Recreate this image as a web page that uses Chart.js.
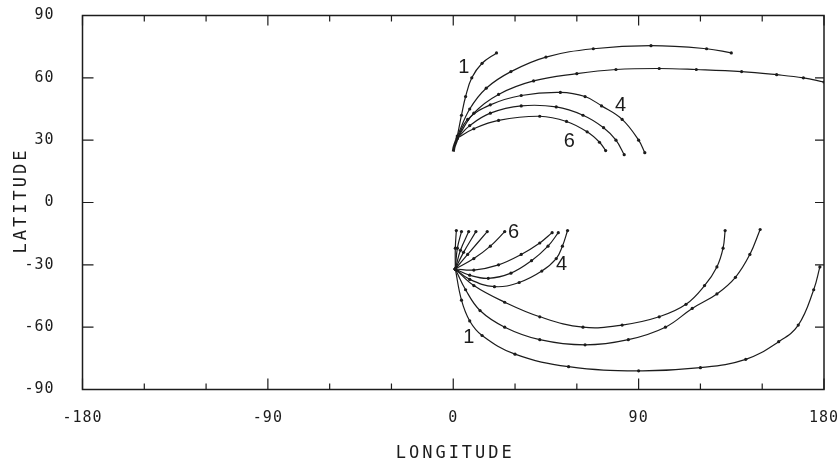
<!DOCTYPE html>
<html>
<head>
<meta charset="utf-8">
<script src="https://cdn.jsdelivr.net/npm/chart.js@4.4.1/dist/chart.umd.min.js"></script>
<style>
  html, body { margin: 0; padding: 0; background: #fff; }
</style>
</head>
<body>
<canvas id="trackChart" width="839" height="466"></canvas>
<script>
// Tick values for the two axes
const lonTicks = [-180, -90, 0, 90, 180];
const latTicks = [-90, -60, -30, 0, 30, 60, 90];

// Northern trajectories, [longitude, latitude]
const northBlob = [[0, 24.5], [0.5, 27], [2, 31]];
const north1 = [[2, 32], [4, 42], [6, 51], [9, 60], [14, 67], [21, 72]];
const north2 = [[2, 32], [8, 45], [16, 55], [28, 63], [45, 70], [68, 74], [96, 75.5], [123, 74], [135, 72]];
const north3 = [[2, 31], [10, 43], [22, 52], [39, 58.5], [60, 62], [79, 64], [100, 64.5], [118, 64], [140, 63], [157, 61.5], [170, 60], [180, 58]];
const north4 = [[2, 31], [7, 40], [18, 47], [33, 51.5], [52, 53], [64, 51], [72, 46.5], [82, 40], [90, 30], [93, 24]];
const north5 = [[2, 31], [8, 37], [18, 43], [33, 46.5], [50, 46], [63, 42], [73, 36], [79, 30], [83, 23]];
const north6 = [[2, 31], [10, 35.5], [22, 39.5], [42, 41.5], [55, 39], [65, 34], [71, 29], [74, 25]];

// Southern trajectories
const southFan1 = [[1, -32], [1, -22], [1.5, -13.5]];
const southFan2 = [[1, -32], [2, -22], [4, -14]];
const southFan3 = [[1, -32], [3.5, -23], [7.5, -14]];
const southFan4 = [[1, -32], [5, -24], [11, -14]];
const southFan5 = [[1, -32], [7, -25], [16.5, -14]];
const south6 = [[1, -32], [10, -27], [18, -21], [25, -14]];
const south5 = [[1, -32], [10, -32.5], [22, -30], [33, -25], [42, -19.5], [48, -14.5]];
const south4 = [[1, -32], [8, -35], [17, -36.5], [28, -34], [38, -28], [46, -21], [51, -14.5]];
const south4b = [[1, -32], [8, -37], [20, -40.5], [32, -38.5], [43, -33], [50, -27], [53, -21], [55.5, -13.5]];
const south3 = [[1, -32], [10, -40], [25, -48], [42, -55], [63, -60], [82, -59], [100, -55], [113, -49], [122, -40], [128, -31], [131, -22], [132, -13.5]];
const south2 = [[1, -32], [6, -42], [13, -52], [25, -60], [42, -66], [64, -68.5], [85, -66], [103, -60], [116, -51], [128, -44], [137, -36], [144, -25], [149, -13]];
const south1 = [[1, -32], [4, -47], [8, -57], [14, -64], [30, -73], [56, -79], [90, -81], [120, -79.5], [142, -75.5], [158, -67], [167.5, -59], [175, -42], [178, -31]];

// Curve number labels
const labelText = ['1', '4', '6', '6', '4', '1'];
const labelLon = [5.1, 81.2, 56.4, 29.3, 52.6, 7.5];
const labelLat = [64.8, 46.5, 29.2, -14.2, -29.9, -65];

const allCurves = [northBlob, north1, north2, north3, north4, north5, north6,
    southFan1, southFan2, southFan3, southFan4, southFan5, south6, south5, south4, south4b,
    south3, south2, south1];

const INK = '#1c1c1c';
const MONO = '"DejaVu Sans Mono", monospace';

const frameAndLabels = {
    id: 'frameAndLabels',
    beforeDraw(chart) {
        // plotter lettering is a bit spaced out
        chart.ctx.letterSpacing = '1px';
    },
    afterDatasetsDraw(chart) {
        const { ctx, chartArea: a, scales: { x, y } } = chart;
        ctx.save();
        ctx.strokeStyle = INK;
        ctx.lineWidth = 1.5;
        ctx.strokeRect(a.left, a.top, a.right - a.left, a.bottom - a.top);

        // inward ticks on all four sides
        ctx.lineWidth = 1.2;
        ctx.beginPath();
        x.ticks.forEach(t => {
            const px = x.getPixelForValue(t.value);
            const major = t.value % 90 === 0;
            ctx.moveTo(px, a.bottom);
            ctx.lineTo(px, a.bottom - (major ? 11 : 6));
            ctx.moveTo(px, a.top);
            ctx.lineTo(px, a.top + (major ? 10 : 6));
        });
        y.ticks.forEach(t => {
            const py = y.getPixelForValue(t.value);
            ctx.moveTo(a.left, py);
            ctx.lineTo(a.left + 11, py);
            ctx.moveTo(a.right, py);
            ctx.lineTo(a.right - 9, py);
        });
        ctx.stroke();

        // curve numbers
        ctx.fillStyle = INK;
        ctx.letterSpacing = '0px';
        ctx.font = '20px "Liberation Sans", Arial, sans-serif';
        ctx.textAlign = 'center';
        ctx.textBaseline = 'middle';
        labelText.forEach((txt, i) => {
            ctx.fillText(txt, x.getPixelForValue(labelLon[i]), y.getPixelForValue(labelLat[i]));
        });

        // axis titles
        ctx.font = '17px ' + MONO;
        ctx.letterSpacing = '3px';
        ctx.fillText('LONGITUDE', (a.left + a.right) / 2 + 2, 454);
        ctx.translate(22, y.getPixelForValue(0));
        ctx.rotate(-Math.PI / 2);
        ctx.fillText('LATITUDE', 2, 0);
        ctx.restore();
    }
};

const ctx = document.getElementById('trackChart');
new Chart(ctx, {
    type: 'scatter',
    data: {
        datasets: allCurves.map((curve, i) => ({
            data: curve.map(([lon, lat]) => ({ x: lon, y: lat })),
            showLine: true,
            tension: 0.4,
            borderColor: INK,
            borderWidth: i === 0 ? 3 : 1.2,
            pointRadius: i === 0 ? 0 : 1.6,
            pointBackgroundColor: INK,
            pointBorderWidth: 0
        }))
    },
    options: {
        responsive: false,
        animation: false,
        layout: { padding: { top: 15.5, right: 15, left: 10, bottom: 0 } },
        plugins: {
            legend: { display: false },
            tooltip: { enabled: false }
        },
        scales: {
            x: {
                type: 'linear',
                min: -180,
                max: 180,
                afterFit: s => {
                    s.height = 76.5;
                    s.paddingLeft = 0;
                    s.paddingRight = 0;
                },
                grid: { display: false },
                border: { display: false },
                ticks: {
                    stepSize: 30,
                    maxRotation: 0,
                    autoSkip: false,
                    padding: 12,
                    color: INK,
                    font: { family: MONO, size: 15 },
                    callback: v => lonTicks.includes(v) ? String(v) : ''
                }
            },
            y: {
                type: 'linear',
                min: -90,
                max: 90,
                afterFit: s => {
                    s.width = 72.5;
                    s.paddingTop = 0;
                    s.paddingBottom = 0;
                },
                grid: { display: false },
                border: { display: false },
                ticks: {
                    stepSize: 30,
                    padding: 20,
                    color: INK,
                    font: { family: MONO, size: 15 },
                    callback: v => latTicks.includes(v) ? String(v) : ''
                }
            }
        }
    },
    plugins: [frameAndLabels]
});
</script>
</body>
</html>
